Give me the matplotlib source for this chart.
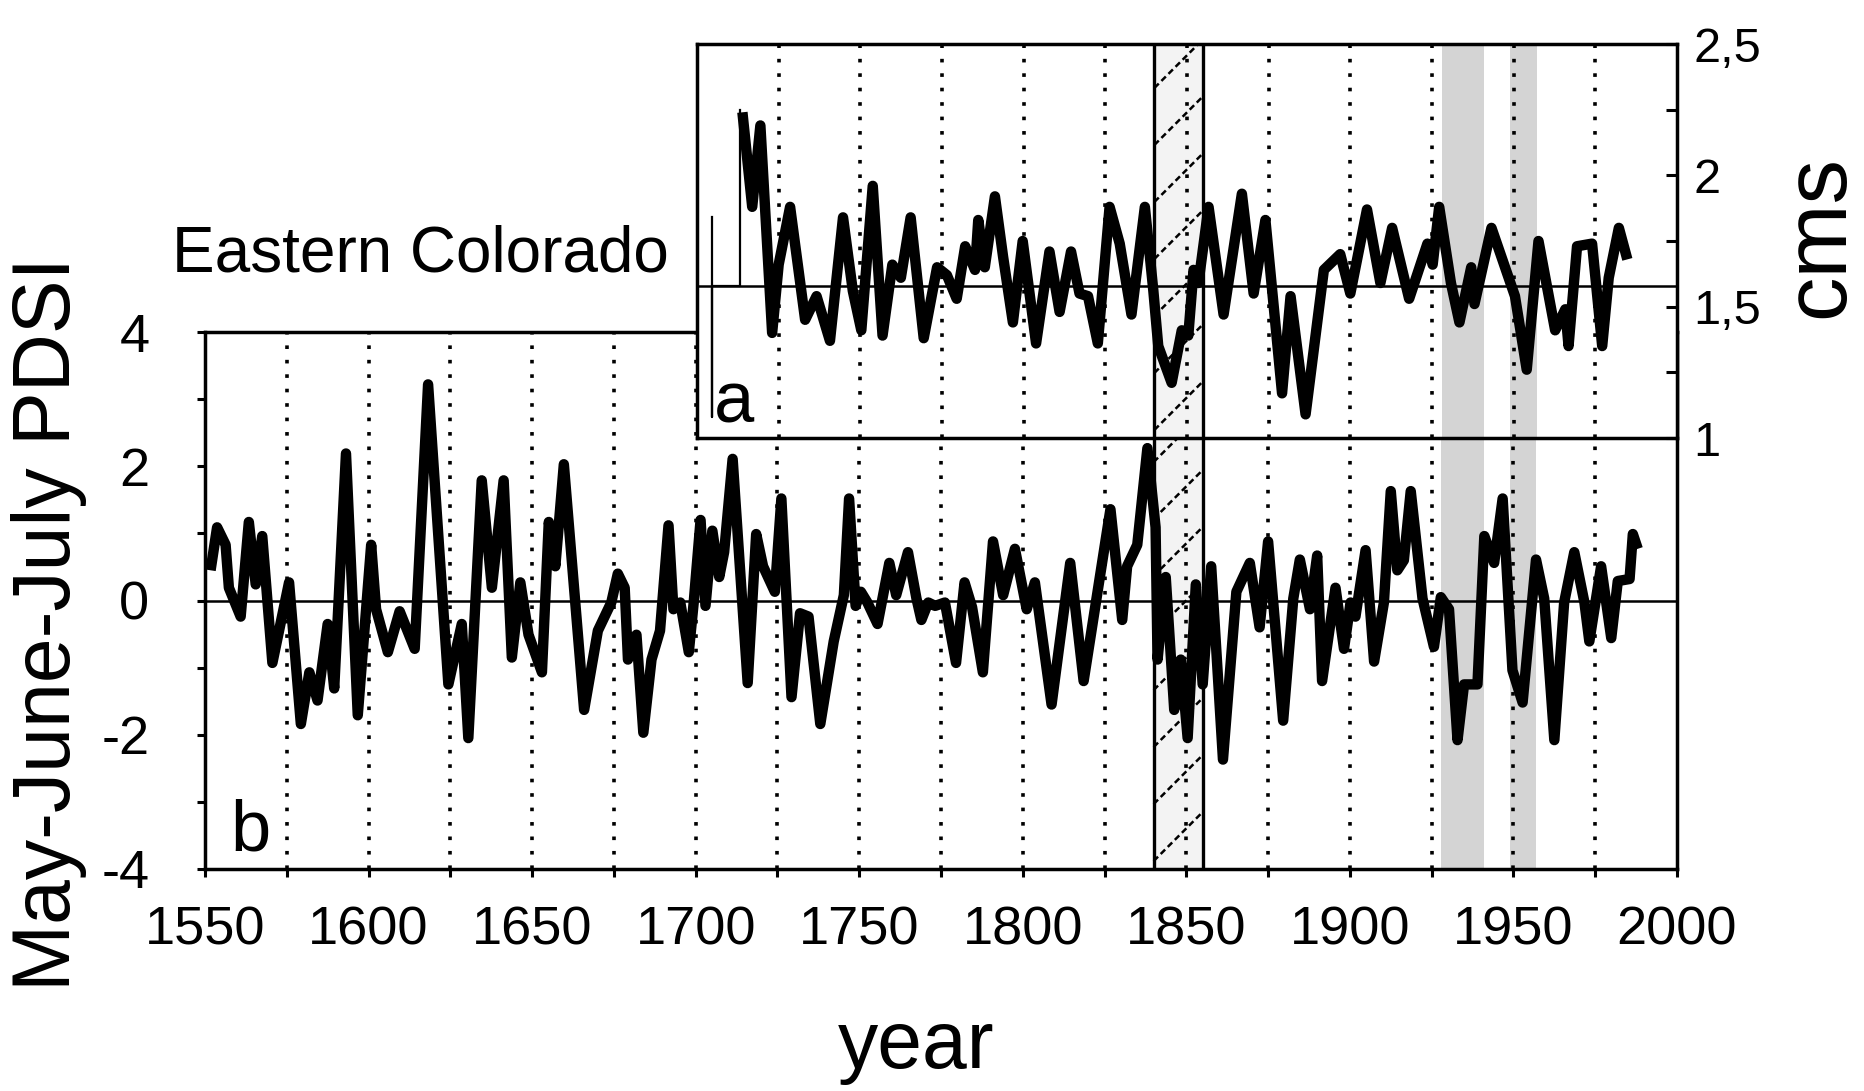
import matplotlib.pyplot as plt
import numpy as np
from matplotlib.ticker import MultipleLocator

plt.rcParams['font.family'] = ['Liberation Sans', 'DejaVu Sans']
plt.rcParams['axes.unicode_minus'] = False

# panel b: May-June-July PDSI reconstruction (turning points)
pdsi_year = [1551.7, 1553.7, 1556.3, 1557.3, 1560.9, 1563.4, 1565.5, 1567.5, 1570.6, 1575.7,
             1579.3, 1581.9, 1584.4, 1587.5, 1589.5, 1593.1, 1596.7, 1600.8, 1602.3, 1605.9,
             1609.5, 1614.1, 1618.2, 1624.4, 1628.5, 1630.5, 1634.6, 1637.7, 1641.3, 1643.8,
             1646.4, 1648.9, 1653.0, 1655.1, 1657.1, 1659.7, 1665.9, 1670.1, 1674.2, 1676.2,
             1678.3, 1679.3, 1681.9, 1684.0, 1686.5, 1689.1, 1691.7, 1693.2, 1695.3, 1697.9,
             1699.4, 1701.5, 1703.0, 1705.1, 1707.2, 1708.7, 1711.3, 1715.9, 1718.5, 1720.6,
             1724.2, 1726.2, 1729.3, 1731.9, 1734.5, 1738.1, 1742.2, 1745.3, 1746.9, 1748.9,
             1750.5, 1752.5, 1755.6, 1759.2, 1761.3, 1764.9, 1767.5, 1769.0, 1771.1, 1773.2,
             1776.2, 1779.6, 1782.2, 1784.5, 1787.8, 1790.9, 1794.0, 1797.6, 1801.2, 1803.7,
             1808.8, 1814.5, 1818.6, 1826.8, 1830.4, 1831.9, 1835.0, 1838.1, 1840.6, 1841.2,
             1843.7, 1846.3, 1848.3, 1850.4, 1852.9, 1855.0, 1857.6, 1861.2, 1865.3, 1869.4,
             1872.4, 1875.0, 1879.6, 1882.7, 1884.7, 1887.8, 1890.0, 1891.5, 1895.6, 1898.2,
             1900.2, 1901.7, 1904.8, 1907.4, 1910.4, 1912.5, 1914.5, 1916.5, 1918.6, 1922.2,
             1925.7, 1927.8, 1930.3, 1932.9, 1934.9, 1939.0, 1941.1, 1944.1, 1946.7, 1949.7,
             1952.8, 1956.9, 1959.4, 1962.5, 1965.5, 1968.6, 1971.7, 1973.2, 1976.8, 1979.9,
             1981.9, 1985.5, 1986.5, 1988.0]
pdsi_value = [0.45, 1.09, 0.83, 0.19, -0.24, 1.17, 0.24, 0.96, -0.93, 0.27,
              -1.84, -1.07, -1.49, -0.35, -1.31, 2.19, -1.71, 0.83, -0.13, -0.77,
              -0.16, -0.72, 3.22, -1.25, -0.35, -2.05, 1.79, 0.19, 1.79, -0.85,
              0.27, -0.51, -1.07, 1.17, 0.51, 2.03, -1.63, -0.45, -0.03, 0.40,
              0.19, -0.88, -0.51, -1.97, -0.88, -0.45, 1.12, -0.13, -0.03, -0.77,
              -0.03, 1.20, -0.08, 1.04, 0.35, 0.72, 2.11, -1.23, 0.99, 0.51,
              0.13, 1.52, -1.44, -0.19, -0.24, -1.84, -0.61, 0.08, 1.52, -0.08,
              0.13, -0.03, -0.35, 0.56, 0.08, 0.72, 0.03, -0.29, -0.03, -0.08,
              -0.03, -0.93, 0.27, -0.10, -1.07, 0.88, 0.08, 0.77, -0.13, 0.27,
              -1.55, 0.56, -1.20, 1.36, -0.29, 0.51, 0.83, 2.27, 1.09, -0.88,
              0.35, -1.63, -0.88, -2.05, 0.24, -1.25, 0.51, -2.37, 0.13, 0.56,
              -0.40, 0.88, -1.79, 0.03, 0.61, -0.13, 0.67, -1.20, 0.19, -0.72,
              -0.03, -0.24, 0.75, -0.91, -0.03, 1.63, 0.45, 0.60, 1.63, 0.03,
              -0.69, 0.05, -0.13, -2.08, -1.25, -1.25, 0.96, 0.56, 1.52, -1.04,
              -1.52, 0.61, 0.03, -2.08, -0.03, 0.72, -0.03, -0.61, 0.51, -0.56,
              0.29, 0.32, 0.99, 0.77]

# panel a: streamflow reconstruction (cms)
flow_year = [1713.9, 1716.9, 1719.4, 1723.0, 1725.0, 1728.5, 1733.1, 1736.6, 1740.7, 1744.7,
             1747.7, 1750.3, 1753.8, 1756.8, 1759.8, 1762.4, 1765.4, 1769.4, 1773.5, 1776.5,
             1779.5, 1782.1, 1785.1, 1786.1, 1788.1, 1791.2, 1793.7, 1796.7, 1799.7, 1803.8,
             1807.9, 1811.0, 1814.5, 1817.1, 1819.7, 1822.7, 1826.3, 1829.4, 1833.0, 1837.1,
             1839.7, 1841.2, 1845.3, 1848.4, 1850.4, 1852.0, 1853.5, 1856.6, 1861.2, 1866.8,
             1870.4, 1874.0, 1879.1, 1881.7, 1886.3, 1891.9, 1896.9, 1900.0, 1905.1, 1909.2,
             1912.8, 1918.0, 1923.6, 1925.2, 1927.2, 1930.8, 1933.4, 1937.0, 1938.0, 1943.2,
             1950.4, 1954.0, 1957.6, 1962.7, 1965.8, 1966.8, 1969.4, 1974.0, 1977.1, 1979.1,
             1982.2, 1984.8]
flow_value = [2.24, 1.88, 2.19, 1.40, 1.66, 1.88, 1.45, 1.54, 1.37, 1.84,
              1.56, 1.41, 1.96, 1.39, 1.66, 1.61, 1.84, 1.38, 1.65, 1.62,
              1.53, 1.73, 1.64, 1.83, 1.65, 1.92, 1.69, 1.44, 1.75, 1.36,
              1.71, 1.48, 1.71, 1.55, 1.54, 1.36, 1.88, 1.74, 1.47, 1.88,
              1.56, 1.35, 1.21, 1.41, 1.39, 1.64, 1.59, 1.88, 1.47, 1.93,
              1.55, 1.83, 1.17, 1.54, 1.09, 1.64, 1.70, 1.55, 1.87, 1.59,
              1.80, 1.53, 1.74, 1.66, 1.88, 1.59, 1.44, 1.65, 1.51, 1.80,
              1.54, 1.26, 1.75, 1.41, 1.49, 1.35, 1.73, 1.74, 1.35, 1.61,
              1.80, 1.68]
# thin early segment of panel a
flow_thin_year = [1704.5, 1704.5, 1704.5, 1713.2, 1713.2]
flow_thin_value = [1.84, 1.08, 1.58, 1.58, 2.25]
flow_mean = 1.58

grid_years = list(range(1575, 2000, 25))
hatch_band = (1840, 1855)
drought_bands = [(1928, 1941), (1949, 1957)]

W, H = 1865, 1091
fig = plt.figure(figsize=(W / 100, H / 100), dpi=100)
axb = fig.add_axes([205 / W, 1 - 869 / H, 1472 / W, 537 / H])
axa = fig.add_axes([697 / W, 1 - 438 / H, 980 / W, 394 / H])
axa.set_zorder(2)
axa.set_facecolor('white')

axb.set_xlim(1550, 2000)
axb.set_ylim(-4, 4)
axa.set_xlim(1700, 2000)
axa.set_ylim(1, 2.5)


def draw_hatch(ax, x0, x1, spacing_px=57):
    # diagonal dashed lines at 45 degrees on screen
    pos = ax.get_position()
    w_px = pos.width * W
    h_px = pos.height * H
    xlo, xhi = ax.get_xlim()
    ylo, yhi = ax.get_ylim()
    sx = w_px / (xhi - xlo)
    sy = h_px / (yhi - ylo)
    rise = (x1 - x0) * sx / sy
    step = spacing_px / sy
    for s in np.arange(ylo - rise, yhi + step, step):
        ax.plot([x0, x1], [s, s + rise], color='black', lw=1.8,
                ls=(0, (2.5, 1.5)), zorder=1.5)


for ax in (axb, axa):
    for b0, b1 in drought_bands:
        ax.axvspan(b0, b1, color='#d4d4d4', lw=0, zorder=0.5)
    ax.axvspan(*hatch_band, color='#f3f3f3', lw=0, zorder=0.5)
    draw_hatch(ax, *hatch_band)
    for yr in hatch_band:
        ax.axvline(yr, color='black', lw=2.4, zorder=2.5)
    for yr in grid_years:
        ax.axvline(yr, color='black', lw=2.6, ls=(0, (1, 3)), zorder=1)
    for sp in ax.spines.values():
        sp.set_linewidth(2.5)

# panel b
axb.axhline(0, color='black', lw=1.8, zorder=2)
axb.plot(pdsi_year, pdsi_value, color='black', lw=7.5, solid_joinstyle='round',
         solid_capstyle='butt', zorder=3)
axb.xaxis.set_major_locator(MultipleLocator(50))
axb.xaxis.set_minor_locator(MultipleLocator(25))
axb.yaxis.set_major_locator(MultipleLocator(2))
axb.yaxis.set_minor_locator(MultipleLocator(1))
axb.tick_params(which='both', direction='out', length=6, width=2.2)
axb.tick_params(axis='x', labelsize=39, pad=20)
axb.tick_params(axis='y', labelsize=39, pad=34)
axb.text(0.017, 0.035, 'b', transform=axb.transAxes, fontsize=52,
         ha='left', va='baseline')

# panel a
axa.axhline(flow_mean, color='black', lw=1.8, zorder=2)
axa.plot(flow_thin_year, flow_thin_value, color='black', lw=1.6, zorder=3)
axa.plot(flow_year, flow_value, color='black', lw=7.5, solid_joinstyle='round',
         solid_capstyle='butt', zorder=3)
axa.tick_params(axis='x', which='both', bottom=False, labelbottom=False)
axa.yaxis.tick_right()
axa.set_yticks([1, 1.5, 2, 2.5], labels=['1', '1,5', '2', '2,5'])
axa.yaxis.set_minor_locator(MultipleLocator(0.25))
axa.tick_params(axis='y', which='both', direction='in', length=8, width=2.2,
                labelsize=35, pad=12)
axa.text(0.017, 0.04, 'a', transform=axa.transAxes, fontsize=52,
         ha='left', va='baseline')

fig.text(172 / W, 1 - 271 / H, 'Eastern Colorado', fontsize=46,
         ha='left', va='baseline')
fig.text(49 / W, 1 - 624 / H, 'May-June-July PDSI', fontsize=58,
         rotation=90, ha='center', va='center')
fig.text(916 / W, 1 - 1047 / H, 'year', fontsize=58, ha='center', va='center')
fig.text(1820 / W, 1 - 236 / H, 'cms', fontsize=64, rotation=90,
         ha='center', va='center')

fig.savefig('out.png', dpi=100)
